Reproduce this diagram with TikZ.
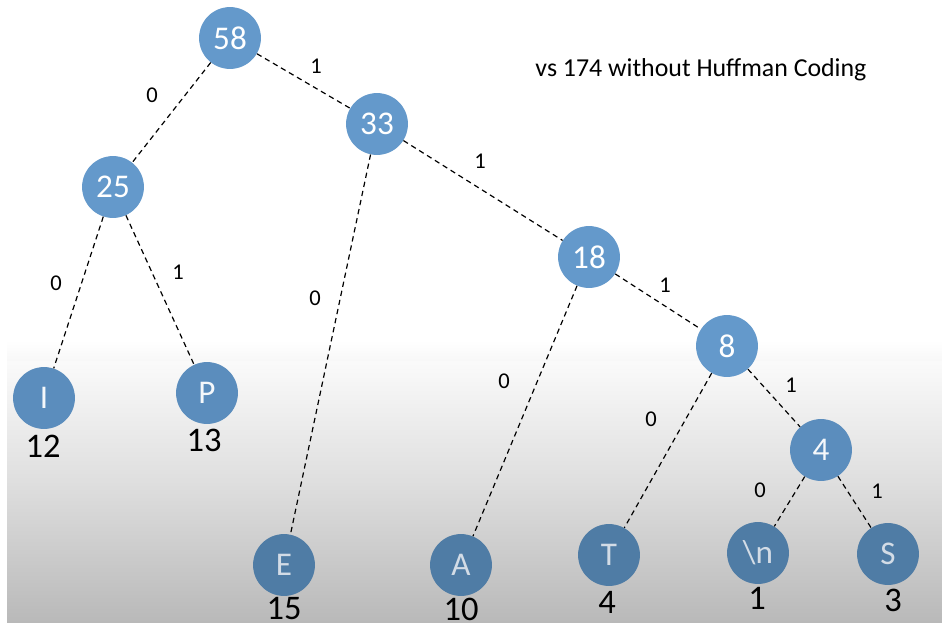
\documentclass[tikz,border=0pt]{standalone}
\usepackage{fontspec}
\setmainfont{Carlito}
\usetikzlibrary{shapes}

\definecolor{nodeup}{HTML}{6499CB}
\definecolor{nodemid}{HTML}{5B8DBD}
\definecolor{nodedown}{HTML}{4F7CA5}
\definecolor{textdown}{HTML}{D3DCE6}
\definecolor{shadetop}{HTML}{F8F8F8}
\definecolor{shadebot}{HTML}{B9B9B9}

\begin{document}
\begin{tikzpicture}[x=0.0265cm, y=-0.0265cm]
\tikzstyle{vertexu}=[circle, fill=nodeup, text=white, minimum size=1.64cm, inner sep=0pt, font=\fontsize{25}{25}\selectfont]
\tikzstyle{vertexm}=[vertexu, fill=nodemid, text=white!94!nodemid]
\tikzstyle{vertexd}=[vertexu, fill=nodedown, text=textdown]
\tikzstyle{countstyle}=[inner sep=0pt, font=\fontsize{26}{26}\selectfont]
\tikzstyle{bitstyle}=[inner sep=0pt, font=\fontsize{17}{17}\selectfont]
\tikzstyle{drawstyle}=[line width=0.9pt, dash pattern=on 4pt off 3pt]

\useasboundingbox (0,0) rectangle (942,627);
\shade[top color=white, bottom color=shadebot, middle color=shadetop!60!shadebot] (7,340) rectangle (942,622);
\shade[top color=white, bottom color=shadetop] (7,340) rectangle (942,360);

\node[inner sep=0pt, font=\fontsize{19.5}{19.5}\selectfont] (T0) at (701,70) {vs 174 without Huffman Coding};

\node[vertexu] (N58) at (230,38) {58};
\node[vertexu] (N33) at (377,124) {33};
\draw[drawstyle] (N58) -- (N33);
\node[bitstyle] (B58x1) at (316,66) {1};
\node[vertexu] (N25) at (113,187) {25};
\draw[drawstyle] (N58) -- (N25);
\node[bitstyle] (B58x0) at (152,95) {0};
\node[vertexm] (LI) at (44,398) {I};
\node[countstyle] (C12) at (43,446) {12};
\draw[drawstyle] (N25) -- (LI);
\node[bitstyle] (B25x0) at (56,283) {0};
\node[vertexm] (LP) at (207,393) {P};
\node[countstyle] (C13) at (204,440) {13};
\draw[drawstyle] (N25) -- (LP);
\node[bitstyle] (B25x1) at (178,272) {1};
\node[vertexd] (LE) at (284,565) {E};
\node[countstyle] (C15) at (284,609) {15};
\draw[drawstyle] (N33) -- (LE);
\node[bitstyle] (B33x0) at (315,298) {0};
\node[vertexu] (N18) at (589,257) {18};
\draw[drawstyle] (N33) -- (N18);
\node[bitstyle] (B33x1) at (480,161) {1};
\node[vertexd] (LA) at (461,565) {A};
\node[countstyle] (C10) at (461,609) {10};
\draw[drawstyle] (N18) -- (LA);
\node[bitstyle] (B18x0) at (504,381) {0};
\node[vertexu] (N8) at (727,346) {8};
\draw[drawstyle] (N18) -- (N8);
\node[bitstyle] (B18x1) at (665,285) {1};
\node[vertexd] (LT) at (609,555) {T};
\node[countstyle] (C4) at (607,602) {4};
\draw[drawstyle] (N8) -- (LT);
\node[bitstyle] (B8x0) at (651,419) {0};
\node[vertexm] (N4) at (821,450) {4};
\draw[drawstyle] (N8) -- (N4);
\node[bitstyle] (B8x1) at (791,385) {1};
\node[vertexd] (LN) at (758,553) {\textbackslash n};
\node[countstyle] (C1) at (757,598) {1};
\draw[drawstyle] (N4) -- (LN);
\node[bitstyle] (B4x0) at (760,490) {0};
\node[vertexd] (LS) at (888,554) {S};
\node[countstyle] (C3) at (893,600) {3};
\draw[drawstyle] (N4) -- (LS);
\node[bitstyle] (B4x1) at (877,491) {1};
\end{tikzpicture}
\end{document}
